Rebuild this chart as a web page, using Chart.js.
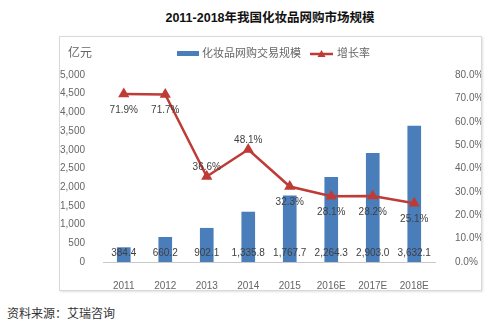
<!DOCTYPE html>
<html>
<head>
<meta charset="utf-8">
<script src="https://cdn.jsdelivr.net/npm/chart.js@4.4.0/dist/chart.umd.min.js"></script>
<style>
  html, body { margin: 0; padding: 0; background: #fff; }
  body { width: 499px; height: 328px; position: relative; overflow: hidden;
         font-family: 'Liberation Sans', 'Noto Sans CJK SC', sans-serif; }
  .title { position: absolute; left: 0; width: 540px; top: 7px; text-align: center;
           font-weight: bold; font-size: 12.5px; color: #111; }
  .box { position: absolute; left: 59px; top: 36px; width: 421px; height: 253px;
         border: 1px solid #d9d9d9; box-shadow: 1px 1px 2px rgba(0,0,0,0.12); }
  .source { position: absolute; left: 7px; top: 304px; font-size: 12px; color: #333;
            font-family: 'Noto Sans CJK SC', sans-serif; }
</style>
</head>
<body>
<div class="title">2011-2018年我国化妆品网购市场规模</div>
<div class="box"><canvas id="c" width="421" height="253"></canvas></div>
<div class="source">资料来源：艾瑞咨询</div>
<script>
// 数据
const years = ['2011', '2012', '2013', '2014', '2015', '2016E', '2017E', '2018E'];
const scale = [384.4, 660.2, 902.1, 1335.8, 1767.7, 2264.3, 2903.0, 3632.1];
const growth = [71.9, 71.7, 36.6, 48.1, 32.3, 28.1, 28.2, 25.1];
const barName = '化妆品网购交易规模';
const lineName = '增长率';
const unitLabel = '亿元';

const blue = '#4a7ebb';
const red = '#be3b36';
const gray = '#666666';
const cjk = "'Liberation Sans', 'Noto Sans CJK SC', sans-serif";

// 标签位置 (上/下)
const lineLabelPos = ['below', 'below', 'above', 'above', 'below', 'below', 'below', 'below'];

const fmtNum = v => v.toLocaleString('en-US', { minimumFractionDigits: 1, maximumFractionDigits: 1 });

// 手动画数据标签和图例
const labelPlugin = {
  id: 'labels',
  afterDraw(chart) {
    const ctx = chart.ctx;
    ctx.save();
    ctx.font = '10px ' + cjk;
    ctx.fillStyle = '#404040';
    ctx.textAlign = 'center';
    ctx.textBaseline = 'middle';
    const bars = chart.getDatasetMeta(0).data;
    bars.forEach((b, i) => {
      ctx.fillText(fmtNum(scale[i]), b.x, chart.chartArea.bottom - 9);
    });
    const pts = chart.getDatasetMeta(1).data;
    pts.forEach((p, i) => {
      const dy = lineLabelPos[i] === 'above' ? -9 : 16;
      ctx.fillText(growth[i].toFixed(1) + '%', p.x, p.y + dy);
    });

    // 单位
    ctx.font = '12px ' + cjk;
    ctx.fillStyle = gray;
    ctx.textAlign = 'left';
    ctx.fillText(unitLabel, 8, 17);

    // 图例
    ctx.font = '11px ' + cjk;
    ctx.fillStyle = blue;
    ctx.fillRect(117, 14, 22, 5);
    ctx.fillStyle = gray;
    ctx.fillText(barName, 142, 17);
    ctx.strokeStyle = red;
    ctx.lineWidth = 2.5;
    ctx.beginPath();
    ctx.moveTo(250, 17); ctx.lineTo(273, 17);
    ctx.stroke();
    ctx.fillStyle = red;
    ctx.beginPath();
    ctx.moveTo(261.5, 13); ctx.lineTo(265.5, 20); ctx.lineTo(257.5, 20);
    ctx.closePath(); ctx.fill();
    ctx.fillStyle = gray;
    ctx.fillText(lineName, 277, 17);
    ctx.restore();
  }
};

new Chart(document.getElementById('c'), {
  data: {
    labels: years,
    datasets: [
      {
        type: 'bar',
        label: barName,
        data: scale,
        backgroundColor: blue,
        barThickness: 13,
        yAxisID: 'y',
        order: 1
      },
      {
        type: 'line',
        label: lineName,
        data: growth,
        borderColor: red,
        backgroundColor: red,
        borderWidth: 2.5,
        pointStyle: 'triangle',
        pointRadius: 4,
        tension: 0,
        yAxisID: 'y1',
        order: 0
      }
    ]
  },
  options: {
    responsive: false,
    animation: false,
    layout: { padding: { top: 38, left: 0, right: 0, bottom: 0 } },
    plugins: { legend: { display: false }, tooltip: { enabled: false } },
    scales: {
      x: {
        grid: { display: false },
        border: { display: true, color: '#c8c8c8' },
        ticks: { color: gray, font: { size: 10, family: cjk }, padding: 10, maxRotation: 0 },
        afterFit: s => { s.height = 28; }
      },
      y: {
        position: 'left',
        min: 0, max: 5000,
        grid: { display: false },
        border: { display: false },
        ticks: { stepSize: 500, color: gray, font: { size: 10, family: cjk }, padding: 10,
                 callback: v => v.toLocaleString('en-US') },
        afterFit: s => { s.width = 43; }
      },
      y1: {
        position: 'right',
        min: 0, max: 80,
        grid: { display: false },
        border: { display: false },
        ticks: { stepSize: 10, color: gray, font: { size: 10, family: cjk }, padding: 12,
                 callback: v => v.toFixed(1) + '%' },
        afterFit: s => { s.width = 46; }
      }
    }
  },
  plugins: [labelPlugin]
});
</script>
</body>
</html>
